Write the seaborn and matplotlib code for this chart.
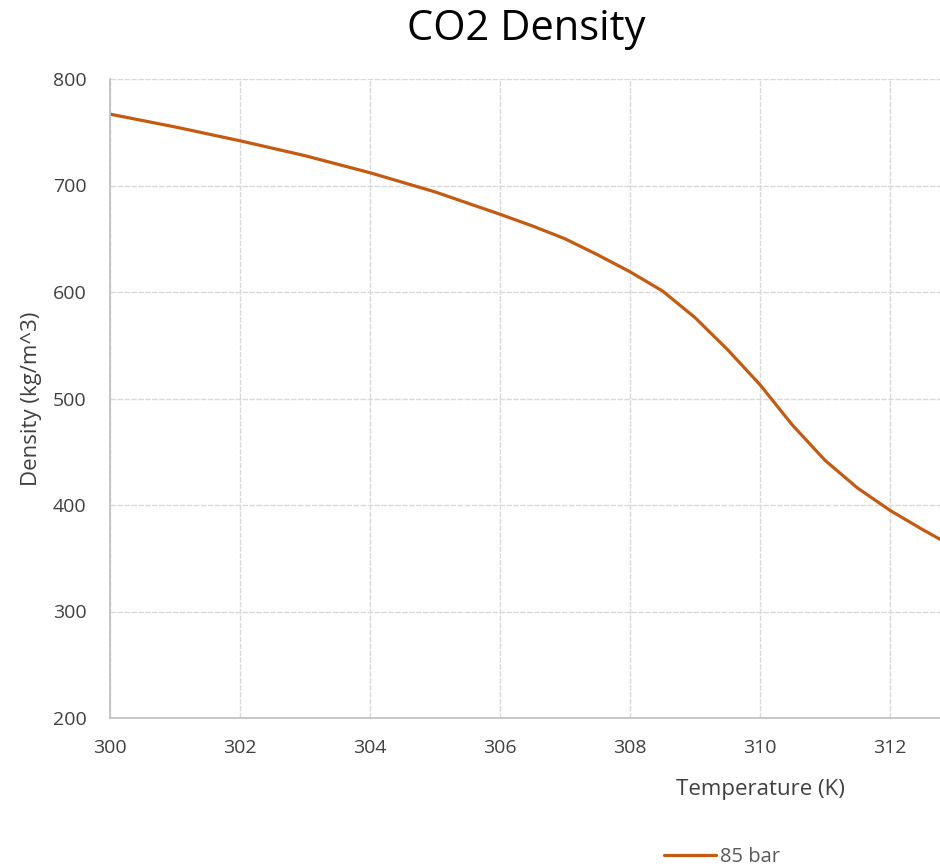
import matplotlib
matplotlib.use("Agg")
import matplotlib.pyplot as plt
import seaborn as sns
import pandas as pd
from matplotlib.lines import Line2D

temperature_K = [300, 301, 302, 303, 304, 305, 306, 306.5, 307, 307.5, 308, 308.5, 309,
                 309.5, 310, 310.5, 311, 311.5, 312, 312.5, 313]
density_85bar = [767, 755, 742, 728, 712, 694, 673, 662, 650, 635, 619, 601, 576,
                 546, 513, 475, 442, 416, 395, 377, 360]
series_name = "85 bar"
x_ticks = [300, 302, 304, 306, 308, 310, 312]
y_ticks = [200, 300, 400, 500, 600, 700, 800]

df = pd.DataFrame({"Temperature (K)": temperature_K, "Density": density_85bar,
                   "Series": series_name})

sns.set_style("white")
plt.rcParams["font.family"] = ["Open Sans", "DejaVu Sans"]

fig = plt.figure(figsize=(9.4, 8.68), dpi=100)
ax = fig.add_axes([110/940, 1 - 718/868, 1 - 110/940, (718 - 79)/868])

sns.lineplot(data=df, x="Temperature (K)", y="Density", color="#C55A11",
             linewidth=2.3, ax=ax, legend=False)

ax.set_xlim(300, 312.77)
ax.set_ylim(200, 800)
ax.set_xticks(x_ticks)
ax.set_yticks(y_ticks)
ax.grid(True, color="#d9d9d9", linewidth=1.0, linestyle=(0, (4, 1)))
ax.set_axisbelow(True)
for s in ["top", "right"]:
    ax.spines[s].set_visible(False)
for s in ["left", "bottom"]:
    ax.spines[s].set_color("#bfbfbf")
    ax.spines[s].set_linewidth(1.2)
ax.tick_params(axis="both", length=0, labelsize=14, labelcolor="#404040")
ax.tick_params(axis="x", pad=15)
ax.tick_params(axis="y", pad=17)

ax.set_xlabel("Temperature (K)", fontsize=16, color="#404040")
ax.xaxis.set_label_coords((760 - 110)/830, -(790 - 718)/639)
ax.xaxis.label.set_verticalalignment("center")
ax.set_ylabel("Density (kg/m^3)", fontsize=16, color="#404040")
ax.yaxis.set_label_coords(-(110 - 32)/830, 0.5)
ax.yaxis.label.set_verticalalignment("center")

fig.text(526/940, 1 - 29/868, "CO2 Density", ha="center", va="center",
         fontsize=30, color="black")

handle = Line2D([0], [0], color="#C55A11", linewidth=2.3)
fig.legend([handle], [series_name], loc="center", bbox_to_anchor=(722/940, 1 - 857/868),
           frameon=False, fontsize=14.5, labelcolor="#595959", handlelength=2.6,
           handletextpad=0.2, borderaxespad=0)

fig.savefig("out.png", dpi=100)
